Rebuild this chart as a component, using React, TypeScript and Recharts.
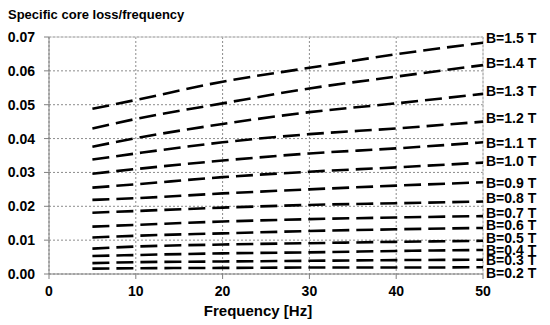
import {
  CartesianGrid,
  LabelList,
  Line,
  LineChart,
  ReferenceLine,
  XAxis,
  YAxis,
} from 'recharts';

const freq = [5, 10, 20, 30, 40, 50];

const b15 = [0.0488, 0.0514, 0.0568, 0.0609, 0.0649, 0.0683];
const b14 = [0.043, 0.0458, 0.0504, 0.0548, 0.0583, 0.0617];
const b13 = [0.0376, 0.0401, 0.0443, 0.0478, 0.0504, 0.0532];
const b12 = [0.0338, 0.0356, 0.0389, 0.0413, 0.043, 0.045];
const b11 = [0.0296, 0.031, 0.0335, 0.0356, 0.0371, 0.0389];
const b10 = [0.0255, 0.0265, 0.0286, 0.0302, 0.0315, 0.0329];
const b09 = [0.0219, 0.0224, 0.0238, 0.025, 0.0261, 0.0271];
const b08 = [0.0181, 0.0186, 0.0196, 0.0204, 0.0209, 0.0214];
const b07 = [0.014, 0.0145, 0.0155, 0.0162, 0.0167, 0.0171];
const b06 = [0.0108, 0.0113, 0.012, 0.0127, 0.0132, 0.0136];
const b05 = [0.0075, 0.0081, 0.0087, 0.0091, 0.0095, 0.0098];
const b04 = [0.0053, 0.0056, 0.0061, 0.0064, 0.0068, 0.0071];
const b03 = [0.0032, 0.0035, 0.0037, 0.0039, 0.0041, 0.0042];
const b02 = [0.0016, 0.0017, 0.0018, 0.0019, 0.0019, 0.002];

const seriesKeys = ['b15', 'b14', 'b13', 'b12', 'b11', 'b10', 'b09', 'b08', 'b07', 'b06', 'b05', 'b04', 'b03', 'b02'];
const seriesValues = [b15, b14, b13, b12, b11, b10, b09, b08, b07, b06, b05, b04, b03, b02];
const seriesLabels = [
  'B=1.5 T', 'B=1.4 T', 'B=1.3 T', 'B=1.2 T', 'B=1.1 T', 'B=1.0 T', 'B=0.9 T',
  'B=0.8 T', 'B=0.7 T', 'B=0.6 T', 'B=0.5 T', 'B=0.4 T', 'B=0.3 T', 'B=0.2 T',
];
// nudges so the crowded end labels sit like the reference
const labelNudge = [-4, -2, -3, -3, 1, -1, 1, -3, -3, -3, -3, 0, 1, 6];

const xTicks = [0, 10, 20, 30, 40, 50];
const yTicks = [0, 0.01, 0.02, 0.03, 0.04, 0.05, 0.06, 0.07];

const data = freq.map((f, i) => {
  const row: Record<string, number> = { f };
  seriesKeys.forEach((k, s) => {
    row[k] = seriesValues[s][i];
  });
  return row;
});

const FONT = '"Liberation Sans", Arial, sans-serif';
const lastIndex = freq.length - 1;

export default function App() {
  return (
    <div style={{ position: 'relative', width: 550, height: 325, fontFamily: FONT }}>
      <style>{'body{margin:0}'}</style>
      <div
        style={{
          position: 'absolute',
          left: 8,
          top: 7,
          fontSize: 13,
          fontWeight: 'bold',
          color: '#000',
        }}
      >
        Specific core loss/frequency
      </div>
      <LineChart
        width={550}
        height={325}
        data={data}
        margin={{ top: 37, right: 67, left: 9, bottom: 1 }}
      >
        <CartesianGrid stroke="#8c8c8c" strokeDasharray="2 2" />
        <ReferenceLine y={0.07} stroke="#c8c8c8" strokeWidth={1} />
        <ReferenceLine x={50} stroke="#c8c8c8" strokeWidth={1} />
        <XAxis
          dataKey="f"
          type="number"
          domain={[0, 50]}
          ticks={xTicks}
          height={50}
          tickSize={5}
          tickMargin={7}
          stroke="#808080"
          tick={{ fill: '#000', fontSize: 14, fontWeight: 'bold', fontFamily: FONT }}
          label={{
            value: 'Frequency [Hz]',
            position: 'insideBottom',
            offset: 8,
            dx: -8,
            fill: '#000',
            fontSize: 15,
            fontWeight: 'bold',
            fontFamily: FONT,
          }}
        />
        <YAxis
          type="number"
          domain={[0, 0.07]}
          ticks={yTicks}
          width={40}
          tickSize={5}
          tickMargin={9}
          stroke="#808080"
          tickFormatter={(v) => Number(v).toFixed(2)}
          tick={{ fill: '#000', fontSize: 14, fontWeight: 'bold', fontFamily: FONT }}
        />
        {seriesKeys.map((k, s) => (
          <Line
            key={k}
            dataKey={k}
            type="monotone"
            stroke="#000"
            strokeWidth={2.6}
            strokeDasharray="17 7"
            dot={false}
            activeDot={false}
            isAnimationActive={false}
          >
            <LabelList
              dataKey={k}
              content={(p: any) =>
                p.index === lastIndex ? (
                  <text
                    x={Number(p.x) + 3}
                    y={Number(p.y)}
                    dy={1 + labelNudge[s]}
                    fontSize={14}
                    fontWeight="bold"
                    fontFamily={FONT}
                    fill="#000"
                    dominantBaseline="middle"
                  >
                    {seriesLabels[s]}
                  </text>
                ) : null
              }
            />
          </Line>
        ))}
      </LineChart>
    </div>
  );
}
